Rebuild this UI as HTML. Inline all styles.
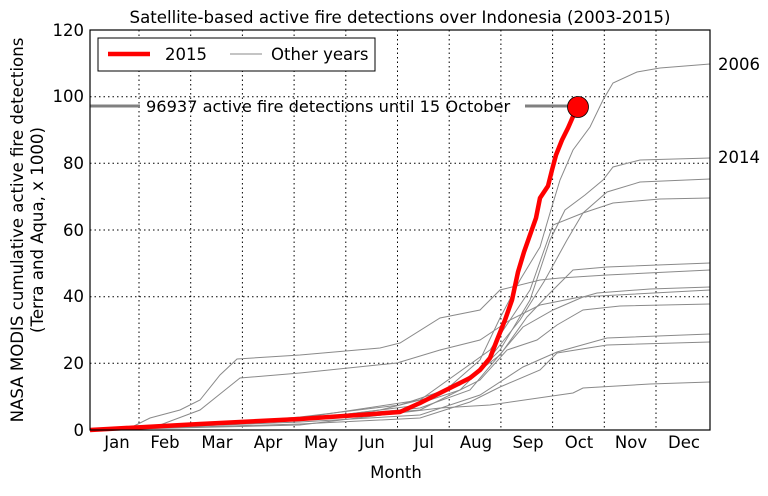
<!DOCTYPE html>
<html><head><meta charset="utf-8"><style>
body{margin:0;background:#fff}
svg{font-family:"DejaVu Sans","Liberation Sans",sans-serif}
</style></head><body>
<svg width="768" height="491" viewBox="0 0 768 491" xmlns="http://www.w3.org/2000/svg">
<rect width="768" height="491" fill="#fff"/>
<text x="400" y="23" font-size="16.6" text-anchor="middle">Satellite-based active fire detections over Indonesia (2003-2015)</text>
<g stroke="#000" stroke-width="1" stroke-dasharray="1.5,3" fill="none">
<line x1="139" y1="30" x2="139" y2="430"/><line x1="190.7" y1="30" x2="190.7" y2="430"/>
<line x1="242.4" y1="30" x2="242.4" y2="430"/><line x1="294.1" y1="30" x2="294.1" y2="430"/>
<line x1="345.8" y1="30" x2="345.8" y2="430"/><line x1="397.5" y1="30" x2="397.5" y2="430"/>
<line x1="449.2" y1="30" x2="449.2" y2="430"/><line x1="500.9" y1="30" x2="500.9" y2="430"/>
<line x1="552.6" y1="30" x2="552.6" y2="430"/><line x1="604.3" y1="30" x2="604.3" y2="430"/>
<line x1="656" y1="30" x2="656" y2="430"/>
<line x1="90" y1="96.7" x2="710" y2="96.7"/><line x1="90" y1="163.3" x2="710" y2="163.3"/>
<line x1="90" y1="230" x2="710" y2="230"/><line x1="90" y1="296.7" x2="710" y2="296.7"/>
<line x1="90" y1="363.3" x2="710" y2="363.3"/>
</g>
<g stroke="#8a8a8a" stroke-width="1" fill="none">
<polyline points="90,430 200,426 300,420 380,410 440,395 480,360 500,318 520,280 540,247 550,213 560,180 573,150 590,127 603,100 613,83 637,72 660,68 710,64"/>
<polyline points="90,430 300,418 400,410 460,390 500,350 530,300 550,240 565,210 585,195 603,180 613,167 640,160 710,158"/>
<polyline points="90,430 300,420 420,405 480,370 520,320 545,280 567,240 583,213 607,192 640,182 710,179"/>
<polyline points="90,430 300,418 420,400 490,350 530,290 553,225 583,213 613,203 660,199 710,198"/>
<polyline points="90,430 200,425 300,417 400,405 460,385 500,355 527,317 550,293 573,270 607,267 710,263"/>
<polyline points="90,430 130,428 150,418 180,410 200,400 220,375 237,359 300,355 380,348 400,343 440,318 480,310 500,290 540,280 560,278 607,275 710,270"/>
<polyline points="90,430 160,425 200,410 225,390 240,378 300,373 397,363 440,350 480,340 510,320 540,305 580,297 710,290"/>
<polyline points="90,430 300,420 420,408 470,390 523,327 553,310 583,297 597,293 650,289 710,287"/>
<polyline points="90,430 300,420 420,410 480,380 507,350 537,340 557,325 583,310 620,306 710,304"/>
<polyline points="90,430 300,422 420,415 480,395 523,367 557,352 607,338 710,334"/>
<polyline points="90,430 300,424 420,418 470,402 500,387 540,370 557,353 607,345 710,342"/>
<polyline points="90,430 300,425 440,408 490,405 573,393 583,388 650,384 710,382"/>
</g>
<line x1="90" y1="106" x2="140" y2="106" stroke="#808080" stroke-width="3"/>
<line x1="525" y1="106" x2="570" y2="106" stroke="#808080" stroke-width="3"/>
<text x="146" y="112" font-size="16.2">96937 active fire detections until 15 October</text>
<polyline fill="none" stroke="#f00" stroke-width="4.5" stroke-linejoin="round" points="90,430 200,424 300,419 373,414 400,412 420,403 440,393 460,383 470,378 480,370 490,358 497,340 505,320 512,300 518,272 524,252 530,235 536,218 540,198 548,186 552,170 556,155 562,140 568,128 575,112"/>
<circle cx="578" cy="107" r="10.5" fill="#f00" stroke="#000" stroke-width="0.8"/>
<rect x="90" y="30" width="620" height="400" fill="none" stroke="#000" stroke-width="1.2"/>
<g font-size="16.5" text-anchor="end">
<text x="84" y="36">120</text><text x="84" y="102">100</text><text x="84" y="169">80</text>
<text x="84" y="236">60</text><text x="84" y="302">40</text><text x="84" y="369">20</text><text x="84" y="436">0</text>
</g>
<g font-size="16.5" text-anchor="middle">
<text x="117" y="448">Jan</text><text x="165" y="448">Feb</text><text x="217" y="448">Mar</text>
<text x="268" y="448">Apr</text><text x="321" y="448">May</text><text x="372" y="448">Jun</text>
<text x="424" y="448">Jul</text><text x="476" y="448">Aug</text><text x="528" y="448">Sep</text>
<text x="579" y="448">Oct</text><text x="631" y="448">Nov</text><text x="684" y="448">Dec</text>
<text x="396" y="478">Month</text>
</g>
<text x="718" y="70" font-size="16.5">2006</text>
<text x="718" y="163" font-size="16.5">2014</text>
<g font-size="16.6" text-anchor="middle">
<text transform="translate(23,230) rotate(-90)">NASA MODIS cumulative active fire detections</text>
<text transform="translate(43,230) rotate(-90)">(Terra and Aqua, x 1000)</text>
</g>
<rect x="98" y="38" width="277" height="33" fill="#fff" stroke="#000" stroke-width="1"/>
<line x1="108" y1="54" x2="150" y2="54" stroke="#f00" stroke-width="4.5"/>
<text x="165" y="60" font-size="16.5">2015</text>
<line x1="230" y1="54" x2="262" y2="54" stroke="#8a8a8a" stroke-width="1"/>
<text x="271" y="60" font-size="16.5">Other years</text>
</svg>
</body></html>
